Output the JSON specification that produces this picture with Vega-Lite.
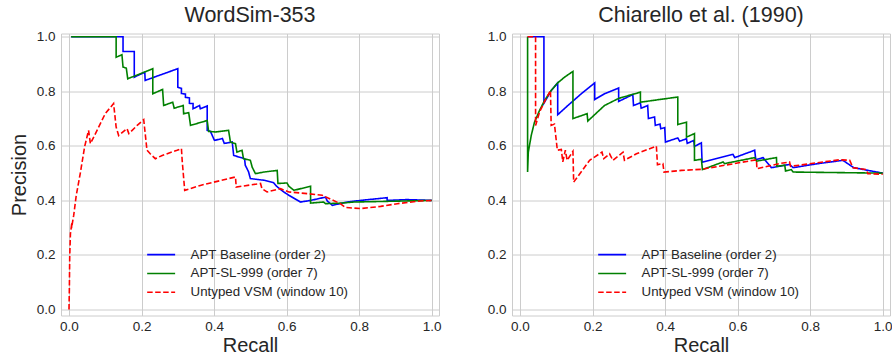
{
  "$schema": "https://vega.github.io/schema/vega-lite/v6.json",
  "background": "white",
  "padding": {"left": 8, "top": 4.5, "right": 0, "bottom": 0},
  "datasets": {
    "wordsim": [
      {"s": "APT Baseline (order 2)", "i": 1, "r": 0.006, "p": 1.0},
      {"s": "APT Baseline (order 2)", "i": 2, "r": 0.149, "p": 1.0},
      {"s": "APT Baseline (order 2)", "i": 3, "r": 0.149, "p": 0.946},
      {"s": "APT Baseline (order 2)", "i": 4, "r": 0.180, "p": 0.946},
      {"s": "APT Baseline (order 2)", "i": 5, "r": 0.180, "p": 0.852},
      {"s": "APT Baseline (order 2)", "i": 6, "r": 0.209, "p": 0.870},
      {"s": "APT Baseline (order 2)", "i": 7, "r": 0.210, "p": 0.840},
      {"s": "APT Baseline (order 2)", "i": 8, "r": 0.300, "p": 0.883},
      {"s": "APT Baseline (order 2)", "i": 9, "r": 0.300, "p": 0.815},
      {"s": "APT Baseline (order 2)", "i": 10, "r": 0.310, "p": 0.811},
      {"s": "APT Baseline (order 2)", "i": 11, "r": 0.310, "p": 0.792},
      {"s": "APT Baseline (order 2)", "i": 12, "r": 0.321, "p": 0.790},
      {"s": "APT Baseline (order 2)", "i": 13, "r": 0.321, "p": 0.778},
      {"s": "APT Baseline (order 2)", "i": 14, "r": 0.332, "p": 0.776},
      {"s": "APT Baseline (order 2)", "i": 15, "r": 0.332, "p": 0.756},
      {"s": "APT Baseline (order 2)", "i": 16, "r": 0.342, "p": 0.755},
      {"s": "APT Baseline (order 2)", "i": 17, "r": 0.342, "p": 0.736},
      {"s": "APT Baseline (order 2)", "i": 18, "r": 0.360, "p": 0.748},
      {"s": "APT Baseline (order 2)", "i": 19, "r": 0.362, "p": 0.736},
      {"s": "APT Baseline (order 2)", "i": 20, "r": 0.381, "p": 0.746},
      {"s": "APT Baseline (order 2)", "i": 21, "r": 0.381, "p": 0.657},
      {"s": "APT Baseline (order 2)", "i": 22, "r": 0.390, "p": 0.653},
      {"s": "APT Baseline (order 2)", "i": 23, "r": 0.401, "p": 0.620},
      {"s": "APT Baseline (order 2)", "i": 24, "r": 0.423, "p": 0.627},
      {"s": "APT Baseline (order 2)", "i": 25, "r": 0.428, "p": 0.609},
      {"s": "APT Baseline (order 2)", "i": 26, "r": 0.450, "p": 0.614},
      {"s": "APT Baseline (order 2)", "i": 27, "r": 0.454, "p": 0.565},
      {"s": "APT Baseline (order 2)", "i": 28, "r": 0.484, "p": 0.553},
      {"s": "APT Baseline (order 2)", "i": 29, "r": 0.486, "p": 0.529},
      {"s": "APT Baseline (order 2)", "i": 30, "r": 0.495, "p": 0.505},
      {"s": "APT Baseline (order 2)", "i": 31, "r": 0.500, "p": 0.480},
      {"s": "APT Baseline (order 2)", "i": 32, "r": 0.537, "p": 0.474},
      {"s": "APT Baseline (order 2)", "i": 33, "r": 0.564, "p": 0.465},
      {"s": "APT Baseline (order 2)", "i": 34, "r": 0.572, "p": 0.452},
      {"s": "APT Baseline (order 2)", "i": 35, "r": 0.592, "p": 0.431},
      {"s": "APT Baseline (order 2)", "i": 36, "r": 0.606, "p": 0.419},
      {"s": "APT Baseline (order 2)", "i": 37, "r": 0.638, "p": 0.394},
      {"s": "APT Baseline (order 2)", "i": 38, "r": 0.666, "p": 0.400},
      {"s": "APT Baseline (order 2)", "i": 39, "r": 0.707, "p": 0.412},
      {"s": "APT Baseline (order 2)", "i": 40, "r": 0.712, "p": 0.398},
      {"s": "APT Baseline (order 2)", "i": 41, "r": 0.726, "p": 0.382},
      {"s": "APT Baseline (order 2)", "i": 42, "r": 0.767, "p": 0.394},
      {"s": "APT Baseline (order 2)", "i": 43, "r": 0.804, "p": 0.400},
      {"s": "APT Baseline (order 2)", "i": 44, "r": 0.877, "p": 0.410},
      {"s": "APT Baseline (order 2)", "i": 45, "r": 0.877, "p": 0.400},
      {"s": "APT Baseline (order 2)", "i": 46, "r": 0.932, "p": 0.403},
      {"s": "APT Baseline (order 2)", "i": 47, "r": 1.0, "p": 0.400},

      {"s": "APT-SL-999 (order 7)", "i": 1, "r": 0.006, "p": 1.0},
      {"s": "APT-SL-999 (order 7)", "i": 2, "r": 0.130, "p": 1.0},
      {"s": "APT-SL-999 (order 7)", "i": 3, "r": 0.130, "p": 0.925},
      {"s": "APT-SL-999 (order 7)", "i": 4, "r": 0.146, "p": 0.934},
      {"s": "APT-SL-999 (order 7)", "i": 5, "r": 0.149, "p": 0.889},
      {"s": "APT-SL-999 (order 7)", "i": 6, "r": 0.158, "p": 0.885},
      {"s": "APT-SL-999 (order 7)", "i": 7, "r": 0.162, "p": 0.846},
      {"s": "APT-SL-999 (order 7)", "i": 8, "r": 0.231, "p": 0.883},
      {"s": "APT-SL-999 (order 7)", "i": 9, "r": 0.231, "p": 0.791},
      {"s": "APT-SL-999 (order 7)", "i": 10, "r": 0.258, "p": 0.807},
      {"s": "APT-SL-999 (order 7)", "i": 11, "r": 0.261, "p": 0.748},
      {"s": "APT-SL-999 (order 7)", "i": 12, "r": 0.286, "p": 0.760},
      {"s": "APT-SL-999 (order 7)", "i": 13, "r": 0.290, "p": 0.738},
      {"s": "APT-SL-999 (order 7)", "i": 14, "r": 0.315, "p": 0.748},
      {"s": "APT-SL-999 (order 7)", "i": 15, "r": 0.316, "p": 0.718},
      {"s": "APT-SL-999 (order 7)", "i": 16, "r": 0.330, "p": 0.722},
      {"s": "APT-SL-999 (order 7)", "i": 17, "r": 0.335, "p": 0.675},
      {"s": "APT-SL-999 (order 7)", "i": 18, "r": 0.381, "p": 0.693},
      {"s": "APT-SL-999 (order 7)", "i": 19, "r": 0.385, "p": 0.653},
      {"s": "APT-SL-999 (order 7)", "i": 20, "r": 0.404, "p": 0.651},
      {"s": "APT-SL-999 (order 7)", "i": 21, "r": 0.440, "p": 0.657},
      {"s": "APT-SL-999 (order 7)", "i": 22, "r": 0.445, "p": 0.614},
      {"s": "APT-SL-999 (order 7)", "i": 23, "r": 0.459, "p": 0.608},
      {"s": "APT-SL-999 (order 7)", "i": 24, "r": 0.463, "p": 0.577},
      {"s": "APT-SL-999 (order 7)", "i": 25, "r": 0.477, "p": 0.584},
      {"s": "APT-SL-999 (order 7)", "i": 26, "r": 0.481, "p": 0.553},
      {"s": "APT-SL-999 (order 7)", "i": 27, "r": 0.500, "p": 0.547},
      {"s": "APT-SL-999 (order 7)", "i": 28, "r": 0.505, "p": 0.522},
      {"s": "APT-SL-999 (order 7)", "i": 29, "r": 0.514, "p": 0.498},
      {"s": "APT-SL-999 (order 7)", "i": 30, "r": 0.537, "p": 0.504},
      {"s": "APT-SL-999 (order 7)", "i": 31, "r": 0.574, "p": 0.510},
      {"s": "APT-SL-999 (order 7)", "i": 32, "r": 0.576, "p": 0.462},
      {"s": "APT-SL-999 (order 7)", "i": 33, "r": 0.601, "p": 0.464},
      {"s": "APT-SL-999 (order 7)", "i": 34, "r": 0.606, "p": 0.452},
      {"s": "APT-SL-999 (order 7)", "i": 35, "r": 0.620, "p": 0.437},
      {"s": "APT-SL-999 (order 7)", "i": 36, "r": 0.666, "p": 0.452},
      {"s": "APT-SL-999 (order 7)", "i": 37, "r": 0.666, "p": 0.390},
      {"s": "APT-SL-999 (order 7)", "i": 38, "r": 0.702, "p": 0.394},
      {"s": "APT-SL-999 (order 7)", "i": 39, "r": 0.707, "p": 0.388},
      {"s": "APT-SL-999 (order 7)", "i": 40, "r": 0.748, "p": 0.390},
      {"s": "APT-SL-999 (order 7)", "i": 41, "r": 0.785, "p": 0.394},
      {"s": "APT-SL-999 (order 7)", "i": 42, "r": 1.0, "p": 0.400},

      {"s": "Untyped VSM (window 10)", "i": 1, "r": 0.0, "p": 0.0},
      {"s": "Untyped VSM (window 10)", "i": 2, "r": 0.001, "p": 0.070},
      {"s": "Untyped VSM (window 10)", "i": 3, "r": 0.002, "p": 0.193},
      {"s": "Untyped VSM (window 10)", "i": 4, "r": 0.004, "p": 0.278},
      {"s": "Untyped VSM (window 10)", "i": 5, "r": 0.008, "p": 0.319},
      {"s": "Untyped VSM (window 10)", "i": 6, "r": 0.007, "p": 0.298},
      {"s": "Untyped VSM (window 10)", "i": 7, "r": 0.013, "p": 0.345},
      {"s": "Untyped VSM (window 10)", "i": 8, "r": 0.020, "p": 0.418},
      {"s": "Untyped VSM (window 10)", "i": 9, "r": 0.031, "p": 0.498},
      {"s": "Untyped VSM (window 10)", "i": 10, "r": 0.043, "p": 0.596},
      {"s": "Untyped VSM (window 10)", "i": 11, "r": 0.054, "p": 0.657},
      {"s": "Untyped VSM (window 10)", "i": 12, "r": 0.059, "p": 0.608},
      {"s": "Untyped VSM (window 10)", "i": 13, "r": 0.073, "p": 0.645},
      {"s": "Untyped VSM (window 10)", "i": 14, "r": 0.100, "p": 0.718},
      {"s": "Untyped VSM (window 10)", "i": 15, "r": 0.123, "p": 0.755},
      {"s": "Untyped VSM (window 10)", "i": 16, "r": 0.130, "p": 0.669},
      {"s": "Untyped VSM (window 10)", "i": 17, "r": 0.137, "p": 0.638},
      {"s": "Untyped VSM (window 10)", "i": 18, "r": 0.160, "p": 0.663},
      {"s": "Untyped VSM (window 10)", "i": 19, "r": 0.165, "p": 0.645},
      {"s": "Untyped VSM (window 10)", "i": 20, "r": 0.188, "p": 0.675},
      {"s": "Untyped VSM (window 10)", "i": 21, "r": 0.206, "p": 0.696},
      {"s": "Untyped VSM (window 10)", "i": 22, "r": 0.215, "p": 0.584},
      {"s": "Untyped VSM (window 10)", "i": 23, "r": 0.224, "p": 0.571},
      {"s": "Untyped VSM (window 10)", "i": 24, "r": 0.238, "p": 0.553},
      {"s": "Untyped VSM (window 10)", "i": 25, "r": 0.257, "p": 0.565},
      {"s": "Untyped VSM (window 10)", "i": 26, "r": 0.298, "p": 0.584},
      {"s": "Untyped VSM (window 10)", "i": 27, "r": 0.310, "p": 0.590},
      {"s": "Untyped VSM (window 10)", "i": 28, "r": 0.312, "p": 0.547},
      {"s": "Untyped VSM (window 10)", "i": 29, "r": 0.319, "p": 0.437},
      {"s": "Untyped VSM (window 10)", "i": 30, "r": 0.362, "p": 0.455},
      {"s": "Untyped VSM (window 10)", "i": 31, "r": 0.459, "p": 0.486},
      {"s": "Untyped VSM (window 10)", "i": 32, "r": 0.461, "p": 0.449},
      {"s": "Untyped VSM (window 10)", "i": 33, "r": 0.528, "p": 0.462},
      {"s": "Untyped VSM (window 10)", "i": 34, "r": 0.532, "p": 0.443},
      {"s": "Untyped VSM (window 10)", "i": 35, "r": 0.546, "p": 0.431},
      {"s": "Untyped VSM (window 10)", "i": 36, "r": 0.583, "p": 0.443},
      {"s": "Untyped VSM (window 10)", "i": 37, "r": 0.606, "p": 0.431},
      {"s": "Untyped VSM (window 10)", "i": 38, "r": 0.657, "p": 0.425},
      {"s": "Untyped VSM (window 10)", "i": 39, "r": 0.698, "p": 0.419},
      {"s": "Untyped VSM (window 10)", "i": 40, "r": 0.748, "p": 0.388},
      {"s": "Untyped VSM (window 10)", "i": 41, "r": 0.762, "p": 0.374},
      {"s": "Untyped VSM (window 10)", "i": 42, "r": 0.804, "p": 0.370},
      {"s": "Untyped VSM (window 10)", "i": 43, "r": 0.859, "p": 0.378},
      {"s": "Untyped VSM (window 10)", "i": 44, "r": 0.905, "p": 0.388},
      {"s": "Untyped VSM (window 10)", "i": 45, "r": 0.969, "p": 0.398},
      {"s": "Untyped VSM (window 10)", "i": 46, "r": 1.0, "p": 0.400}
    ],
    "chiarello": [
      {"s": "APT Baseline (order 2)", "i": 1, "r": 0.021, "p": 1.0},
      {"s": "APT Baseline (order 2)", "i": 2, "r": 0.066, "p": 1.0},
      {"s": "APT Baseline (order 2)", "i": 3, "r": 0.066, "p": 0.756},
      {"s": "APT Baseline (order 2)", "i": 4, "r": 0.086, "p": 0.803},
      {"s": "APT Baseline (order 2)", "i": 5, "r": 0.104, "p": 0.831},
      {"s": "APT Baseline (order 2)", "i": 6, "r": 0.104, "p": 0.714},
      {"s": "APT Baseline (order 2)", "i": 7, "r": 0.132, "p": 0.748},
      {"s": "APT Baseline (order 2)", "i": 8, "r": 0.169, "p": 0.791},
      {"s": "APT Baseline (order 2)", "i": 9, "r": 0.206, "p": 0.831},
      {"s": "APT Baseline (order 2)", "i": 10, "r": 0.206, "p": 0.770},
      {"s": "APT Baseline (order 2)", "i": 11, "r": 0.233, "p": 0.791},
      {"s": "APT Baseline (order 2)", "i": 12, "r": 0.272, "p": 0.812},
      {"s": "APT Baseline (order 2)", "i": 13, "r": 0.272, "p": 0.763},
      {"s": "APT Baseline (order 2)", "i": 14, "r": 0.311, "p": 0.788},
      {"s": "APT Baseline (order 2)", "i": 15, "r": 0.313, "p": 0.748},
      {"s": "APT Baseline (order 2)", "i": 16, "r": 0.332, "p": 0.758},
      {"s": "APT Baseline (order 2)", "i": 17, "r": 0.334, "p": 0.738},
      {"s": "APT Baseline (order 2)", "i": 18, "r": 0.352, "p": 0.748},
      {"s": "APT Baseline (order 2)", "i": 19, "r": 0.354, "p": 0.700},
      {"s": "APT Baseline (order 2)", "i": 20, "r": 0.371, "p": 0.706},
      {"s": "APT Baseline (order 2)", "i": 21, "r": 0.373, "p": 0.675},
      {"s": "APT Baseline (order 2)", "i": 22, "r": 0.386, "p": 0.680},
      {"s": "APT Baseline (order 2)", "i": 23, "r": 0.388, "p": 0.663},
      {"s": "APT Baseline (order 2)", "i": 24, "r": 0.399, "p": 0.667},
      {"s": "APT Baseline (order 2)", "i": 25, "r": 0.401, "p": 0.614},
      {"s": "APT Baseline (order 2)", "i": 26, "r": 0.435, "p": 0.629},
      {"s": "APT Baseline (order 2)", "i": 27, "r": 0.440, "p": 0.617},
      {"s": "APT Baseline (order 2)", "i": 28, "r": 0.459, "p": 0.626},
      {"s": "APT Baseline (order 2)", "i": 29, "r": 0.461, "p": 0.609},
      {"s": "APT Baseline (order 2)", "i": 30, "r": 0.479, "p": 0.620},
      {"s": "APT Baseline (order 2)", "i": 31, "r": 0.481, "p": 0.598},
      {"s": "APT Baseline (order 2)", "i": 32, "r": 0.500, "p": 0.611},
      {"s": "APT Baseline (order 2)", "i": 33, "r": 0.502, "p": 0.540},
      {"s": "APT Baseline (order 2)", "i": 34, "r": 0.587, "p": 0.569},
      {"s": "APT Baseline (order 2)", "i": 35, "r": 0.592, "p": 0.557},
      {"s": "APT Baseline (order 2)", "i": 36, "r": 0.647, "p": 0.584},
      {"s": "APT Baseline (order 2)", "i": 37, "r": 0.650, "p": 0.549},
      {"s": "APT Baseline (order 2)", "i": 38, "r": 0.670, "p": 0.557},
      {"s": "APT Baseline (order 2)", "i": 39, "r": 0.693, "p": 0.520},
      {"s": "APT Baseline (order 2)", "i": 40, "r": 0.743, "p": 0.532},
      {"s": "APT Baseline (order 2)", "i": 41, "r": 0.753, "p": 0.520},
      {"s": "APT Baseline (order 2)", "i": 42, "r": 0.817, "p": 0.534},
      {"s": "APT Baseline (order 2)", "i": 43, "r": 0.890, "p": 0.547},
      {"s": "APT Baseline (order 2)", "i": 44, "r": 0.920, "p": 0.520},
      {"s": "APT Baseline (order 2)", "i": 45, "r": 1.0, "p": 0.500},

      {"s": "APT-SL-999 (order 7)", "i": 1, "r": 0.021, "p": 1.0},
      {"s": "APT-SL-999 (order 7)", "i": 2, "r": 0.021, "p": 0.504},
      {"s": "APT-SL-999 (order 7)", "i": 3, "r": 0.023, "p": 0.577},
      {"s": "APT-SL-999 (order 7)", "i": 4, "r": 0.031, "p": 0.638},
      {"s": "APT-SL-999 (order 7)", "i": 5, "r": 0.040, "p": 0.687},
      {"s": "APT-SL-999 (order 7)", "i": 6, "r": 0.054, "p": 0.730},
      {"s": "APT-SL-999 (order 7)", "i": 7, "r": 0.068, "p": 0.767},
      {"s": "APT-SL-999 (order 7)", "i": 8, "r": 0.086, "p": 0.803},
      {"s": "APT-SL-999 (order 7)", "i": 9, "r": 0.104, "p": 0.831},
      {"s": "APT-SL-999 (order 7)", "i": 10, "r": 0.123, "p": 0.852},
      {"s": "APT-SL-999 (order 7)", "i": 11, "r": 0.146, "p": 0.873},
      {"s": "APT-SL-999 (order 7)", "i": 12, "r": 0.146, "p": 0.700},
      {"s": "APT-SL-999 (order 7)", "i": 13, "r": 0.185, "p": 0.718},
      {"s": "APT-SL-999 (order 7)", "i": 14, "r": 0.187, "p": 0.691},
      {"s": "APT-SL-999 (order 7)", "i": 15, "r": 0.233, "p": 0.748},
      {"s": "APT-SL-999 (order 7)", "i": 16, "r": 0.272, "p": 0.774},
      {"s": "APT-SL-999 (order 7)", "i": 17, "r": 0.311, "p": 0.789},
      {"s": "APT-SL-999 (order 7)", "i": 18, "r": 0.332, "p": 0.797},
      {"s": "APT-SL-999 (order 7)", "i": 19, "r": 0.332, "p": 0.760},
      {"s": "APT-SL-999 (order 7)", "i": 20, "r": 0.385, "p": 0.770},
      {"s": "APT-SL-999 (order 7)", "i": 21, "r": 0.435, "p": 0.779},
      {"s": "APT-SL-999 (order 7)", "i": 22, "r": 0.435, "p": 0.678},
      {"s": "APT-SL-999 (order 7)", "i": 23, "r": 0.459, "p": 0.687},
      {"s": "APT-SL-999 (order 7)", "i": 24, "r": 0.459, "p": 0.632},
      {"s": "APT-SL-999 (order 7)", "i": 25, "r": 0.481, "p": 0.645},
      {"s": "APT-SL-999 (order 7)", "i": 26, "r": 0.481, "p": 0.547},
      {"s": "APT-SL-999 (order 7)", "i": 27, "r": 0.500, "p": 0.551},
      {"s": "APT-SL-999 (order 7)", "i": 28, "r": 0.503, "p": 0.513},
      {"s": "APT-SL-999 (order 7)", "i": 29, "r": 0.560, "p": 0.541},
      {"s": "APT-SL-999 (order 7)", "i": 30, "r": 0.564, "p": 0.535},
      {"s": "APT-SL-999 (order 7)", "i": 31, "r": 0.647, "p": 0.557},
      {"s": "APT-SL-999 (order 7)", "i": 32, "r": 0.652, "p": 0.544},
      {"s": "APT-SL-999 (order 7)", "i": 33, "r": 0.707, "p": 0.557},
      {"s": "APT-SL-999 (order 7)", "i": 34, "r": 0.708, "p": 0.525},
      {"s": "APT-SL-999 (order 7)", "i": 35, "r": 0.730, "p": 0.529},
      {"s": "APT-SL-999 (order 7)", "i": 36, "r": 0.732, "p": 0.508},
      {"s": "APT-SL-999 (order 7)", "i": 37, "r": 0.748, "p": 0.513},
      {"s": "APT-SL-999 (order 7)", "i": 38, "r": 0.753, "p": 0.504},
      {"s": "APT-SL-999 (order 7)", "i": 39, "r": 1.0, "p": 0.500},

      {"s": "Untyped VSM (window 10)", "i": 1, "r": 0.021, "p": 1.0},
      {"s": "Untyped VSM (window 10)", "i": 2, "r": 0.043, "p": 1.0},
      {"s": "Untyped VSM (window 10)", "i": 3, "r": 0.043, "p": 0.675},
      {"s": "Untyped VSM (window 10)", "i": 4, "r": 0.054, "p": 0.724},
      {"s": "Untyped VSM (window 10)", "i": 5, "r": 0.068, "p": 0.763},
      {"s": "Untyped VSM (window 10)", "i": 6, "r": 0.084, "p": 0.803},
      {"s": "Untyped VSM (window 10)", "i": 7, "r": 0.086, "p": 0.675},
      {"s": "Untyped VSM (window 10)", "i": 8, "r": 0.095, "p": 0.680},
      {"s": "Untyped VSM (window 10)", "i": 9, "r": 0.103, "p": 0.584},
      {"s": "Untyped VSM (window 10)", "i": 10, "r": 0.114, "p": 0.587},
      {"s": "Untyped VSM (window 10)", "i": 11, "r": 0.118, "p": 0.541},
      {"s": "Untyped VSM (window 10)", "i": 12, "r": 0.125, "p": 0.584},
      {"s": "Untyped VSM (window 10)", "i": 13, "r": 0.130, "p": 0.547},
      {"s": "Untyped VSM (window 10)", "i": 14, "r": 0.146, "p": 0.580},
      {"s": "Untyped VSM (window 10)", "i": 15, "r": 0.148, "p": 0.467},
      {"s": "Untyped VSM (window 10)", "i": 16, "r": 0.192, "p": 0.547},
      {"s": "Untyped VSM (window 10)", "i": 17, "r": 0.226, "p": 0.577},
      {"s": "Untyped VSM (window 10)", "i": 18, "r": 0.231, "p": 0.553},
      {"s": "Untyped VSM (window 10)", "i": 19, "r": 0.247, "p": 0.571},
      {"s": "Untyped VSM (window 10)", "i": 20, "r": 0.256, "p": 0.547},
      {"s": "Untyped VSM (window 10)", "i": 21, "r": 0.284, "p": 0.577},
      {"s": "Untyped VSM (window 10)", "i": 22, "r": 0.288, "p": 0.547},
      {"s": "Untyped VSM (window 10)", "i": 23, "r": 0.321, "p": 0.571},
      {"s": "Untyped VSM (window 10)", "i": 24, "r": 0.376, "p": 0.599},
      {"s": "Untyped VSM (window 10)", "i": 25, "r": 0.379, "p": 0.531},
      {"s": "Untyped VSM (window 10)", "i": 26, "r": 0.394, "p": 0.535},
      {"s": "Untyped VSM (window 10)", "i": 27, "r": 0.397, "p": 0.504},
      {"s": "Untyped VSM (window 10)", "i": 28, "r": 0.445, "p": 0.510},
      {"s": "Untyped VSM (window 10)", "i": 29, "r": 0.500, "p": 0.514},
      {"s": "Untyped VSM (window 10)", "i": 30, "r": 0.652, "p": 0.549},
      {"s": "Untyped VSM (window 10)", "i": 31, "r": 0.653, "p": 0.516},
      {"s": "Untyped VSM (window 10)", "i": 32, "r": 0.716, "p": 0.535},
      {"s": "Untyped VSM (window 10)", "i": 33, "r": 0.743, "p": 0.541},
      {"s": "Untyped VSM (window 10)", "i": 34, "r": 0.746, "p": 0.525},
      {"s": "Untyped VSM (window 10)", "i": 35, "r": 0.881, "p": 0.549},
      {"s": "Untyped VSM (window 10)", "i": 36, "r": 0.909, "p": 0.547},
      {"s": "Untyped VSM (window 10)", "i": 37, "r": 0.918, "p": 0.520},
      {"s": "Untyped VSM (window 10)", "i": 38, "r": 0.955, "p": 0.513},
      {"s": "Untyped VSM (window 10)", "i": 39, "r": 0.959, "p": 0.498},
      {"s": "Untyped VSM (window 10)", "i": 40, "r": 1.0, "p": 0.496}
    ]
  },
  "spacing": 44,
  "hconcat": [
    {
      "title": "WordSim-353",
      "width": 378,
      "height": 282,
      "data": {"name": "wordsim"},
      "mark": {"type": "line", "strokeWidth": 1.6, "clip": true},
      "encoding": {
        "x": {"field": "r", "type": "quantitative", "title": "Recall",
              "axis": {"values": [0, 0.2, 0.4, 0.6, 0.8, 1.0]},
              "scale": {"domain": [-0.022, 1.02], "nice": false, "zero": false}},
        "y": {"field": "p", "type": "quantitative", "title": "Precision",
              "axis": {"values": [0, 0.2, 0.4, 0.6, 0.8, 1.0]},
              "scale": {"domain": [-0.022, 1.012], "nice": false, "zero": false}},
        "order": {"field": "i", "type": "quantitative"},
        "color": {"field": "s", "type": "nominal", "title": null,
                  "scale": {"domain": ["APT Baseline (order 2)", "APT-SL-999 (order 7)", "Untyped VSM (window 10)"],
                            "range": ["#0000ff", "#008000", "#ff0000"]}},
        "strokeDash": {"field": "s", "type": "nominal", "title": null,
                       "scale": {"domain": ["APT Baseline (order 2)", "APT-SL-999 (order 7)", "Untyped VSM (window 10)"],
                                 "range": [[1, 0], [1, 0], [5.5, 2.5]]}}
      }
    },
    {
      "title": "Chiarello et al. (1990)",
      "width": 378,
      "height": 282,
      "data": {"name": "chiarello"},
      "mark": {"type": "line", "strokeWidth": 1.6, "clip": true},
      "encoding": {
        "x": {"field": "r", "type": "quantitative", "title": "Recall",
              "axis": {"values": [0, 0.2, 0.4, 0.6, 0.8, 1.0]},
              "scale": {"domain": [-0.022, 1.02], "nice": false, "zero": false}},
        "y": {"field": "p", "type": "quantitative", "title": null,
              "axis": {"values": [0, 0.2, 0.4, 0.6, 0.8, 1.0]},
              "scale": {"domain": [-0.022, 1.012], "nice": false, "zero": false}},
        "order": {"field": "i", "type": "quantitative"},
        "color": {"field": "s", "type": "nominal", "title": null,
                  "scale": {"domain": ["APT Baseline (order 2)", "APT-SL-999 (order 7)", "Untyped VSM (window 10)"],
                            "range": ["#0000ff", "#008000", "#ff0000"]}},
        "strokeDash": {"field": "s", "type": "nominal", "title": null,
                       "scale": {"domain": ["APT Baseline (order 2)", "APT-SL-999 (order 7)", "Untyped VSM (window 10)"],
                                 "range": [[1, 0], [1, 0], [5.5, 2.5]]}}
      }
    }
  ],
  "resolve": {
    "scale": {"x": "independent", "y": "independent"},
    "legend": {"color": "independent", "strokeDash": "independent"}
  },
  "config": {
    "font": "Liberation Sans",
    "view": {"stroke": "#cccccc", "strokeWidth": 1},
    "title": {"fontSize": 21.5, "fontWeight": "normal", "color": "#262626", "offset": 3, "font": "Liberation Sans"},
    "axis": {
      "domain": false,
      "ticks": false,
      "grid": true,
      "gridColor": "#cccccc",
      "gridWidth": 1,
      "format": ".1f",
      "labelFont": "Liberation Sans",
      "labelFontSize": 13.5,
      "labelColor": "#262626",
      "titleFont": "Liberation Sans",
      "titleFontSize": 20,
      "titleFontWeight": "normal",
      "titleColor": "#262626"
    },
    "axisX": {"labelPadding": 4, "titlePadding": 2},
    "axisY": {"labelPadding": 6, "titlePadding": 7},
    "legend": {
      "orient": "none",
      "legendX": 93.5,
      "legendY": 214.5,
      "symbolType": "M-2.5,0H2.5",
      "symbolSize": 125,
      "symbolStrokeWidth": 1.6,
      "labelFont": "Liberation Sans",
      "labelFontSize": 13.3,
      "labelColor": "#262626",
      "labelOffset": 22.8,
      "rowPadding": 4.8
    }
  }
}
